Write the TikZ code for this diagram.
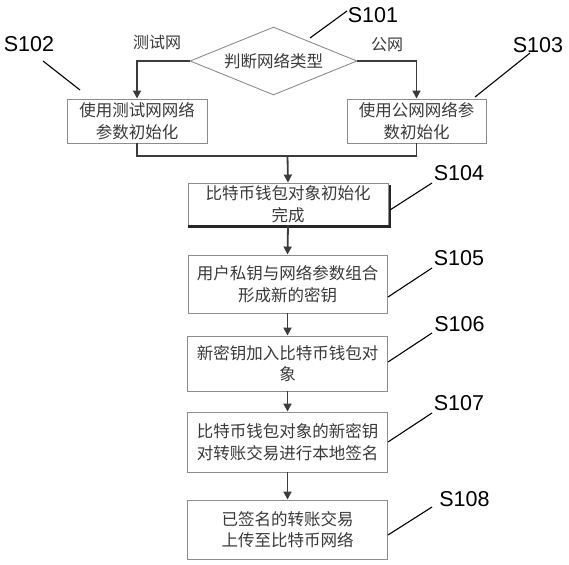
\documentclass[tikz,border=0pt]{standalone}
\usepackage{fontspec}
\setmainfont{Liberation Sans}
\newfontfamily\cjk{Noto Sans CJK SC}
\usetikzlibrary{shapes.geometric,arrows.meta}
\definecolor{boxline}{HTML}{8C8C8C}
\definecolor{txt}{HTML}{3A3A3A}
\definecolor{arr}{HTML}{3C3C3C}
\begin{document}
\begin{tikzpicture}[x=1pt,y=-1pt,
  stepbox/.style={draw=boxline,line width=0.9pt,rectangle,inner sep=0pt,
    text=txt,font=\cjk\fontsize{16.5}{21.5}\selectfont,align=center},
  decision/.style={draw=boxline,line width=0.9pt,diamond,aspect=2.456,inner sep=0pt,
    minimum width=167pt,minimum height=68pt,text=txt,
    font=\cjk\fontsize{16.5}{21}\selectfont},
  flow/.style={draw=arr,line width=1.8pt,-{Triangle[length=8pt,width=8pt]}},
  flowline/.style={draw=arr,line width=1.8pt},
  lead/.style={draw=black,line width=1.1pt},
  steplabel/.style={inner sep=0pt,font=\fontsize{21.5}{24}\selectfont,text=black},
  branch/.style={inner sep=0pt,text=txt,font=\cjk\fontsize{16}{20}\selectfont}]
\useasboundingbox[fill=white] (0,0) rectangle (569,564);

\node[decision] (d) at (273.5,61) {判断网络类型};
\node[stepbox,minimum width=140pt,minimum height=44pt] (b2) at (137,121) {使用测试网网络\\参数初始化};
\node[stepbox,minimum width=139pt,minimum height=44pt] (b3) at (416.5,121) {使用公网网络参\\数初始化};
\node[stepbox,minimum width=200pt,minimum height=42pt] (b4) at (288,204) {比特币钱包对象初始化\\完成};
\node[stepbox,minimum width=199pt,minimum height=58pt] (b5) at (287.5,284) {用户私钥与网络参数组合\\形成新的密钥};
\node[stepbox,minimum width=200pt,minimum height=55pt] (b6) at (287.5,363.5) {新密钥加入比特币钱包对\\象};
\node[stepbox,minimum width=200pt,minimum height=60pt] (b7) at (287.5,442) {比特币钱包对象的新密钥\\对转账交易进行本地签名};
\node[stepbox,minimum width=200pt,minimum height=59pt] (b8) at (287.5,529.5) {已签名的转账交易\\上传至比特币网络};

% shadow of b4
\draw[draw=black!85,line width=2.6pt] ([xshift=1.6pt,yshift=-2pt]b4.north east) |- ([xshift=0.5pt,yshift=-1.3pt]b4.south west);

% branch labels
\node[branch] (tl) at (157,42) {测试网};
\node[branch] (tr) at (387,45) {公网};

% connectors
\draw[flow] (d.west) -| (b2.north);
\draw[flow] (d.east) -| (b3.north);
\coordinate (m) at (287.5,156);
\draw[flowline] (b2.south) |- (m) -| (b3.south);
\draw[flow] (m) -- (b4.north);
\draw[flow] (b4.south) -- (b5.north);
\draw[flow] (b5.south) -- (b6.north);
\draw[flow] (b6.south) -- (b7.north);
\draw[flow] (b7.south) -- (b8.north);

% step labels
\node[steplabel] (s1) at (373,15.5) {S101};
\node[steplabel] (s2) at (29,44) {S102};
\node[steplabel] (s3) at (538,45) {S103};
\node[steplabel] (s4) at (459,173.5) {S104};
\node[steplabel] (s5) at (459,258.5) {S105};
\node[steplabel] (s6) at (459.5,324.5) {S106};
\node[steplabel] (s7) at (459,403) {S107};
\node[steplabel] (s8) at (464.5,499) {S108};

% leader lines
\coordinate (a1) at (347,11);  \coordinate (e1) at (310,38);
\coordinate (a2) at (43,61);   \coordinate (e2) at (80,90);
\coordinate (a3) at (530,53);  \coordinate (e3) at (475,97);
\coordinate (a4) at (432,183); \coordinate (e4) at (390,210);
\coordinate (a5) at (432,268); \coordinate (e5) at (388,297);
\coordinate (a6) at (432,333); \coordinate (e6) at (388,362);
\coordinate (a7) at (432,413); \coordinate (e7) at (388,442);
\coordinate (a8) at (432,507); \coordinate (e8) at (388,535);
\foreach \i in {1,...,8}{\draw[lead] (a\i) -- (e\i);}
\end{tikzpicture}
\end{document}
